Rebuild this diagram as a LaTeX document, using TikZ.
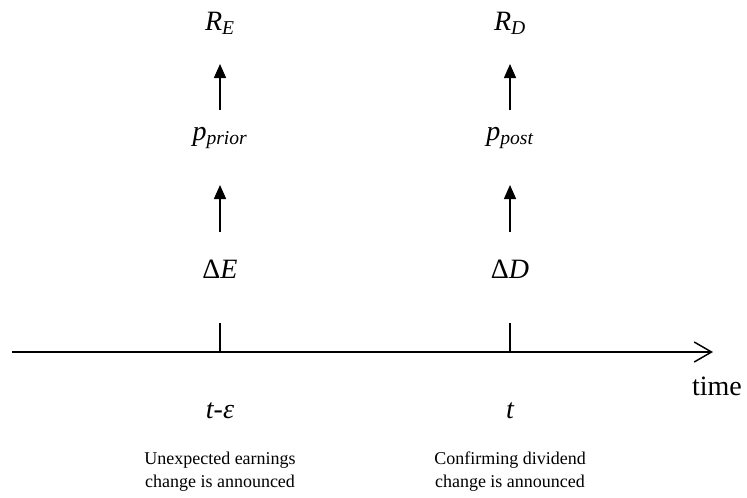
\documentclass[tikz,border=0pt]{standalone}
\usepackage{fontspec}
\setmainfont{Liberation Serif}
\usetikzlibrary{arrows.meta}

\tikzset{
  lbl/.style={inner sep=0pt,anchor=base,font=\fontsize{21}{24}\selectfont\itshape},
  note/.style={inner sep=0pt,anchor=base,align=center,font=\fontsize{13.5}{17.25}\selectfont},
  up/.style={line width=1.1pt,-{Triangle[length=10.5pt,width=9pt]}},
}

\begin{document}
\begin{tikzpicture}[x=0.75pt,y=-0.75pt]
\useasboundingbox (0,0) rectangle (747,497);
% labels above the time line
\node[lbl] (RE) at (220,30) {R\textsubscript{E}};
\node[lbl] (pprior) at (220,140) {p\textsubscript{prior}};
\node[lbl] (dE) at (220,278) {{\upshape Δ}E};
\node[lbl] (RD) at (510,30) {R\textsubscript{D}};
\node[lbl] (ppost) at (510,140) {p\textsubscript{post}};
\node[lbl] (dD) at (510,278) {{\upshape Δ}D};
\draw[up,shorten <=22.5pt,shorten >=25.5pt] (pprior.base) -- (RE.base);
\draw[up,shorten <=34.5pt,shorten >=33.75pt] (dE.base) -- (pprior.base);
\draw[up,shorten <=22.5pt,shorten >=25.5pt] (ppost.base) -- (RD.base);
\draw[up,shorten <=34.5pt,shorten >=33.75pt] (dD.base) -- (ppost.base);
% time line
\coordinate (start) at (12,352);
\coordinate (stop) at (713,352);
\coordinate (tE) at (220,352);
\coordinate (tD) at (510,352);
\draw[line width=1.1pt,-{Straight Barb[length=13pt,width=15pt]}] (start) -- (stop);
\draw[line width=1.1pt] (tE) -- ++(0,-29);
\draw[line width=1.1pt] (tD) -- ++(0,-29);
\node[lbl,font=\fontsize{21}{24}\selectfont] (time) at (717,395) {time};
\node[lbl] (teps) at (220,418) {t-ε};
\node[lbl] (t) at (510,418) {t};
\node[note] (noteE) at (220,487) {Unexpected earnings\\change is announced};
\node[note] (noteD) at (510,487) {Confirming dividend\\change is announced};
\end{tikzpicture}
\end{document}
